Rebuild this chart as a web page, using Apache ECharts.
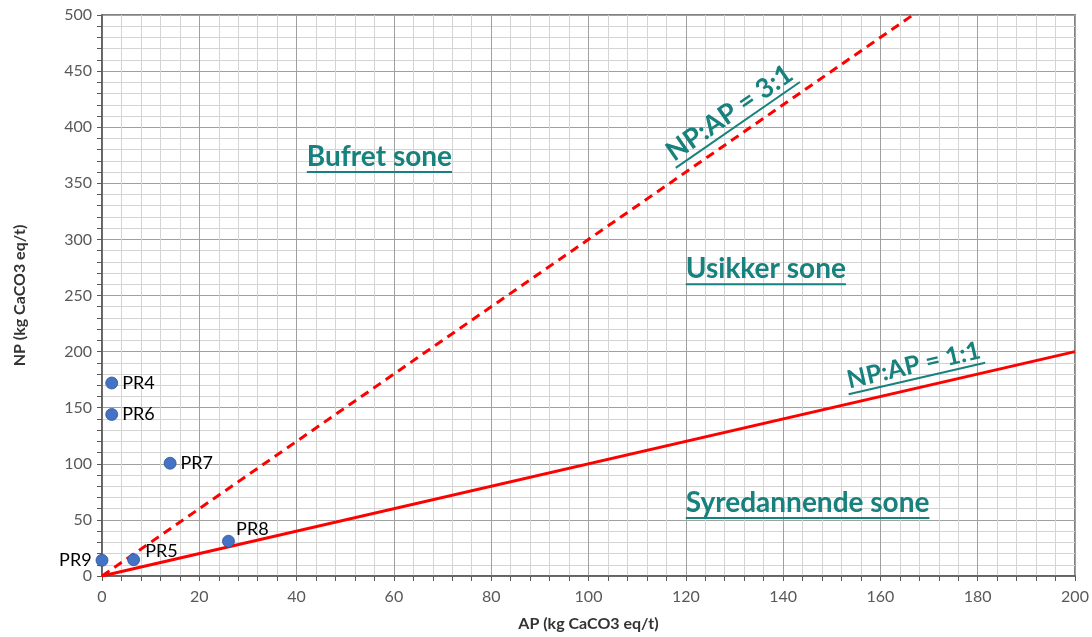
<!DOCTYPE html>
<html><head><meta charset="utf-8">
<script src="https://cdn.jsdelivr.net/npm/echarts@6/dist/echarts.min.js"></script>
<style>html,body{margin:0;padding:0;background:#fff}#c{width:1092px;height:637px}</style>
</head><body><div id="c"></div>
<script>
// Data
const sampleNames = ['PR4','PR6','PR7','PR8','PR5','PR9'];
const apValues = [2, 2, 14, 26, 6.5, 0];
const npValues = [172, 144, 100.5, 31, 14.5, 14];
const line31 = [[0,0],[166.67,500]];
const line11 = [[0,0],[200,200]];
const xAxisName = 'AP (kg CaCO3 eq/t)';
const yAxisName = 'NP (kg CaCO3 eq/t)';
const zoneLabels = ['Bufret sone','Usikker sone','Syredannende sone'];
const zoneAnchors = [[42.1,360],[120,260],[120,51.7]];
const ratioLabels = ['NP:AP = 3:1','NP:AP = 1:1'];
const ratioAnchors = [[130.7,402],[167.5,176]];
const ratioFontSizes = [27, 25];

const FONT = 'Lato, "Open Sans", sans-serif';
const TEAL = '#17817d';
const chart = echarts.init(document.getElementById('c'));
const labelPos = {PR4:'right',PR6:'right',PR7:'right',PR8:[14,-15],PR5:[18,-11],PR9:'left'};
const pts = apValues.map((v,i)=>({value:[v,npValues[i]], name:sampleNames[i],
  label:{position: labelPos[sampleNames[i]]}}));

const axisCommon = {
  axisLine:{show:true,lineStyle:{color:'#595959',width:1.5}},
  axisTick:{show:true,length:5,lineStyle:{color:'#595959'}},
  minorTick:{show:true,splitNumber:5,length:5,lineStyle:{color:'#595959'}},
  splitLine:{show:true,lineStyle:{color:'#a0a0a0',width:1}},
  minorSplitLine:{show:true,lineStyle:{color:'#d4d4d4',width:1}},
  axisLabel:{color:'#595959',fontSize:16,fontFamily:FONT},
  nameTextStyle:{color:'#333',fontSize:16,fontWeight:'bold',fontFamily:FONT}
};
chart.setOption({
  animation:false,
  grid:{left:102,right:17,top:15,bottom:61,show:true,borderColor:'#595959',borderWidth:1.5},
  xAxis:Object.assign({type:'value',min:0,max:200,interval:20,name:xAxisName,nameLocation:'middle',nameGap:40},axisCommon,
    {axisLabel:Object.assign({},axisCommon.axisLabel,{margin:13})}),
  yAxis:Object.assign({type:'value',min:0,max:500,interval:50,name:yAxisName,nameLocation:'middle',nameGap:74},axisCommon,
    {axisLabel:Object.assign({},axisCommon.axisLabel,{margin:10})}),
  series:[
    {type:'line',data:line31,showSymbol:false,lineStyle:{color:'#ff0000',width:3,type:[9,6]},z:3,silent:true},
    {type:'line',data:line11,showSymbol:false,lineStyle:{color:'#ff0000',width:3},z:3,silent:true},
    {type:'scatter',data:pts,symbolSize:12,itemStyle:{color:'#4472c4',opacity:1,borderColor:'#2f5597',borderWidth:0.8},z:5,
     label:{show:true,formatter:'{b}',color:'#000',fontSize:18,fontFamily:FONT,distance:4}}
  ]
});

const mc = document.createElement('canvas').getContext('2d');
function tw(t,font){mc.font=font;return mc.measureText(t).width;}
const gfx=[];
const zf = 'bold 28px '+FONT;
zoneLabels.forEach((t,i)=>{
  const p = chart.convertToPixel({gridIndex:0}, zoneAnchors[i]);
  const w = tw(t,zf);
  gfx.push({type:'text',x:p[0],y:p[1]-1,style:{text:t,font:zf,fill:TEAL,align:'left',verticalAlign:'bottom'},z:10});
  gfx.push({type:'line',shape:{x1:p[0],y1:p[1],x2:p[0]+w,y2:p[1]},style:{stroke:TEAL,lineWidth:2},z:10});
});
ratioLabels.forEach((t,i)=>{
  const rf = 'bold '+ratioFontSizes[i]+'px '+FONT;
  const p = chart.convertToPixel({gridIndex:0}, ratioAnchors[i]);
  const o = chart.convertToPixel({gridIndex:0}, [0,0]);
  const e = chart.convertToPixel({gridIndex:0}, i===0?line31[1]:line11[1]);
  const ang = Math.atan2(o[1]-e[1], e[0]-o[0]);
  const w = tw(t,rf);
  gfx.push({type:'group',x:p[0],y:p[1],rotation:ang,z:10,children:[
    {type:'text',x:0,y:-1,style:{text:t,font:rf,fill:TEAL,align:'center',verticalAlign:'bottom'},z:10},
    {type:'line',shape:{x1:-w/2-2,y1:0,x2:w/2+2,y2:0},style:{stroke:TEAL,lineWidth:2},z:10}
  ]});
});
chart.setOption({graphic:gfx});
</script></body></html>
